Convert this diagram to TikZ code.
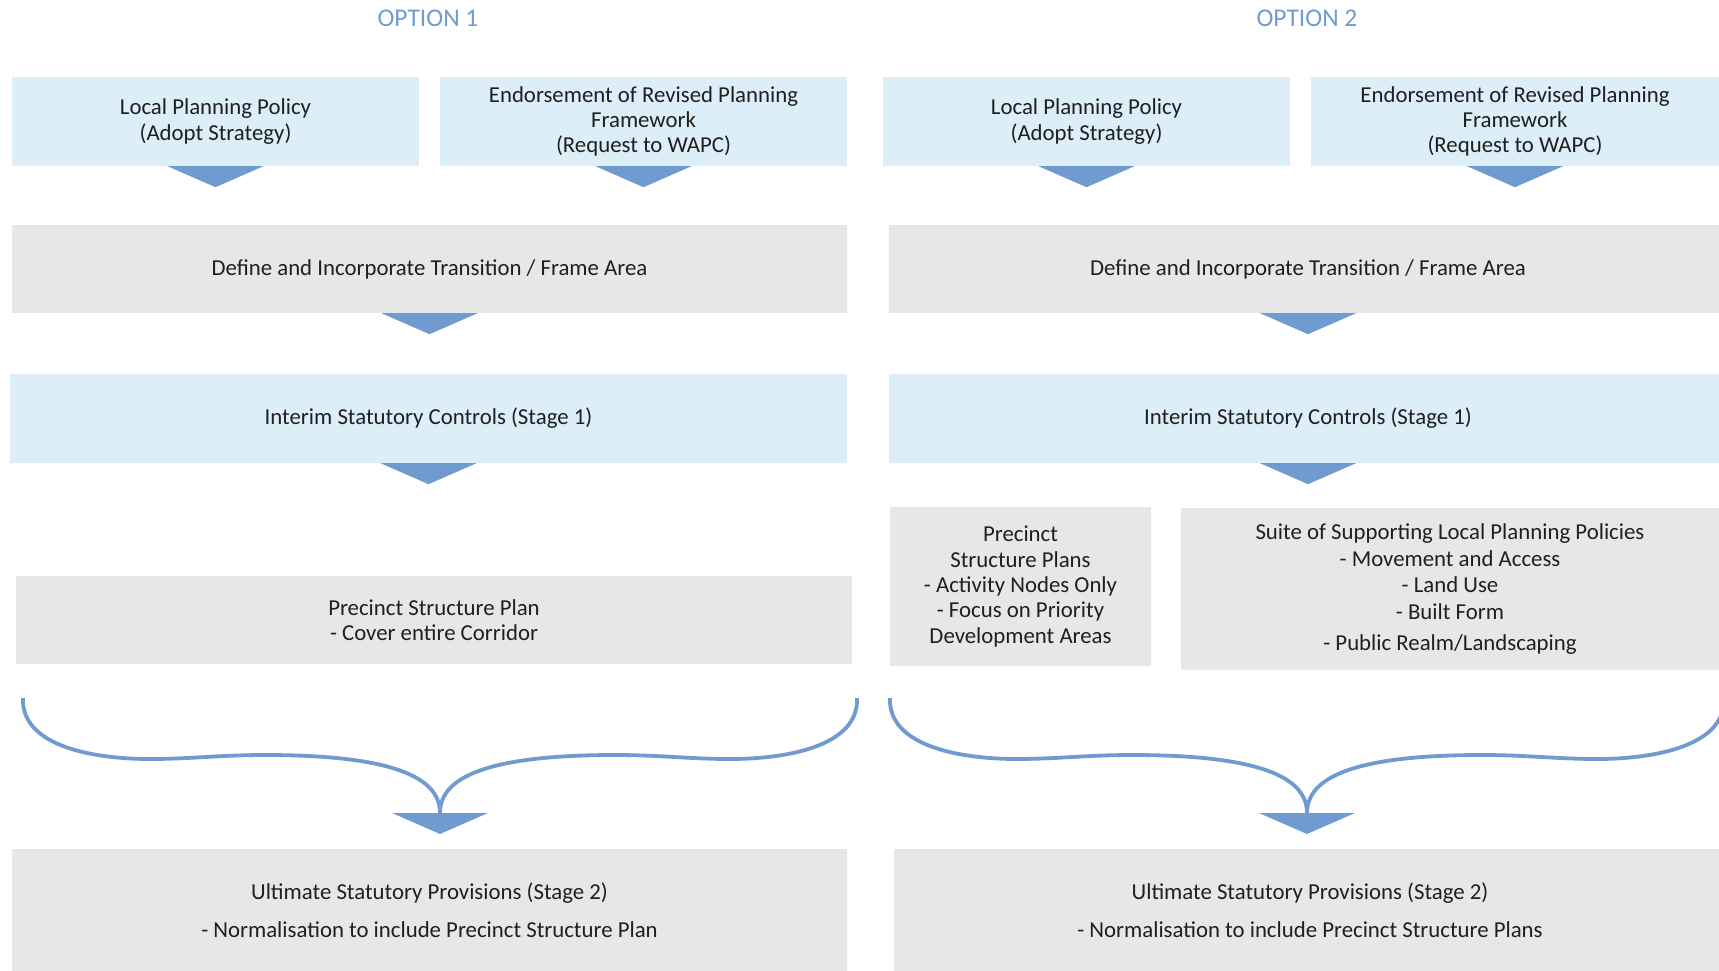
\documentclass[tikz,border=0pt]{standalone}
\usepackage{fontspec}
\setmainfont{Carlito}
\usetikzlibrary{calc}
\definecolor{bleuclair}{HTML}{DCEEF7}
\definecolor{grisclair}{HTML}{E6E7E9}
\definecolor{bleufleche}{HTML}{6F9BD1}
\tikzset{
  boite/.style={inner sep=0pt, align=center, text=black!88,
    font=\fontsize{22.8}{25.3}\selectfont},
  boitebleue/.style={boite, fill=bleuclair},
  boitegrise/.style={boite, fill=grisclair},
  titre/.style={text=bleufleche, font=\fontsize{25.5}{30}\selectfont},
  accolade/.style={draw=bleufleche, line width=3.8pt},
}
% Pointe de fleche sous un point
\newcommand{\pointe}[1]{\fill[bleufleche] ($(#1)+(-48,0)$) -- ($(#1)+(48,0)$) -- ($(#1)+(0,21)$) -- cycle;}
\begin{document}
\begin{tikzpicture}[x=1pt, y=-1pt]
    \path[use as bounding box] (0,0) rectangle (1719,971);
    \clip (0,0) rectangle (1719,971);

    % Titres
    \node[titre] (opt1) at (428,18.5) {OPTION 1};
    \node[titre] (opt2) at (1307,18.5) {OPTION 2};

    % Option 1
    \node[boitebleue, minimum width=407, minimum height=89] (lpp1) at (215.5,121.5)
        {Local Planning Policy\\(Adopt Strategy)};
    \node[boitebleue, minimum width=407, minimum height=89] (erpf1) at (643.5,121.5)
        {Endorsement of Revised Planning\\Framework\\(Request to WAPC)};
    \node[boitegrise, minimum width=835, minimum height=88] (def1) at (429.5,269)
        {Define and Incorporate Transition / Frame Area};
    \node[boitebleue, minimum width=837, minimum height=89] (int1) at (428.5,418.5)
        {Interim Statutory Controls (Stage 1)};
    \node[boitegrise, minimum width=836, minimum height=88] (psp1) at (434,620)
        {Precinct Structure Plan\\- Cover entire Corridor};
    \node[boitegrise, minimum width=835, minimum height=122] (ult1) at (429.5,910)
        {Ultimate Statutory Provisions (Stage 2)\\[13pt]- Normalisation to include Precinct Structure Plan};

    % Option 2
    \node[boitebleue, minimum width=407, minimum height=89] (lpp2) at (1086.5,121.5)
        {Local Planning Policy\\(Adopt Strategy)};
    \node[boitebleue, minimum width=408, minimum height=89] (erpf2) at (1515,121.5)
        {Endorsement of Revised Planning\\Framework\\(Request to WAPC)};
    \node[boitegrise, minimum width=838, minimum height=88] (def2) at (1308,269)
        {Define and Incorporate Transition / Frame Area};
    \node[boitebleue, minimum width=838, minimum height=89] (int2) at (1308,418.5)
        {Interim Statutory Controls (Stage 1)};
    \node[boitegrise, minimum width=261, minimum height=159] (psp2) at (1020.5,586.5)
        {Precinct\\Structure Plans\\- Activity Nodes Only\\- Focus on Priority\\Development Areas};
    \node[boitegrise, minimum width=538, minimum height=162,
          font=\fontsize{22.8}{26.6}\selectfont] (slpp2) at (1450,589)
        {Suite of Supporting Local Planning Policies\\- Movement and Access\\- Land Use\\- Built Form\\[4pt]- Public Realm/Landscaping};
    \node[boitegrise, minimum width=832, minimum height=122] (ult2) at (1310,910)
        {Ultimate Statutory Provisions (Stage 2)\\[13pt]- Normalisation to include Precinct Structure Plans};

    % Pointes sous les boites
    \foreach \b in {lpp1, erpf1, def1, int1, lpp2, erpf2, def2, int2} {
        \pointe{\b.south}
    }

    % Accolades vers les provisions finales
    \foreach \c/\n in {440/1, 1307/2} {
        \coordinate (acc\n) at (\c,813);
        \draw[accolade] ({\c-417},698) .. controls ({\c-419},745) and ({\c-350},759) .. ({\c-290},759)
            .. controls ({\c-250},759) and ({\c-220},755) .. ({\c-175},755)
            .. controls ({\c-40},755) and (\c,780) .. (acc\n);
        \draw[accolade] ({\c+417},698) .. controls ({\c+419},745) and ({\c+350},759) .. ({\c+290},759)
            .. controls ({\c+250},759) and ({\c+220},755) .. ({\c+175},755)
            .. controls ({\c+40},755) and (\c,780) .. (acc\n);
        \pointe{acc\n}
    }
\end{tikzpicture}
\end{document}
